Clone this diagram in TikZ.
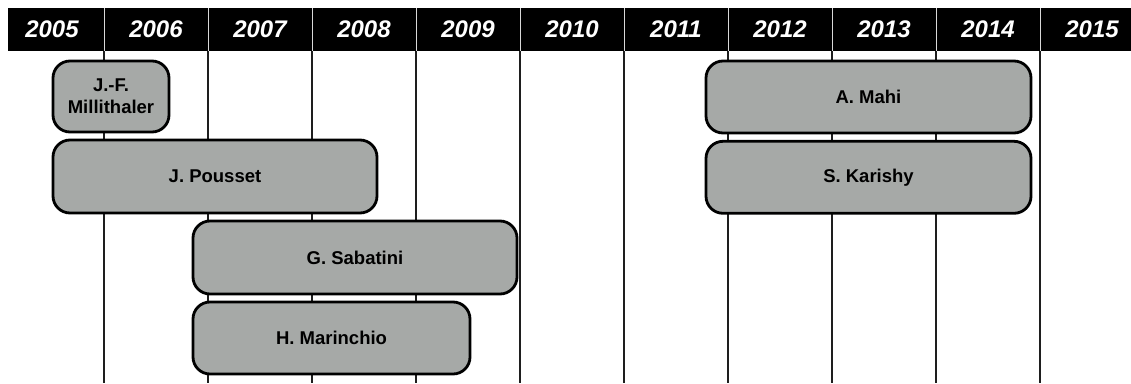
\documentclass[tikz,border=0pt]{standalone}
\usepackage{fontspec}
\setmainfont{Liberation Sans}
\definecolor{boxgray}{RGB}{166,169,167}
\definecolor{gridcol}{RGB}{30,30,30}
\begin{document}
\begin{tikzpicture}[x=1pt,y=-1pt,
  yearlbl/.style={text=white,font=\fontsize{24}{26}\selectfont\bfseries\itshape,inner sep=0pt},
  person/.style={draw=black,fill=boxgray,line width=2.8pt,rounded corners=17pt,
    font=\fontsize{18.5}{22}\selectfont\bfseries,align=center,inner sep=0pt},
  gridline/.style={draw=gridcol,line width=1.4pt},
  headsep/.style={draw=white!85!black,line width=1pt}]
\useasboundingbox (0,0) rectangle (1131,383);
% header bar
\fill[black] (8,8) rectangle (1131,51);
\foreach \i in {1,...,10} {
  \coordinate (ht\i) at (104*\i,8);
  \coordinate (hb\i) at (104*\i,51);
  \coordinate (bb\i) at (104*\i,383);
  \draw[headsep] (ht\i) -- (hb\i);
  \draw[gridline] (hb\i) -- (bb\i);
}
\foreach \yr [count=\i from 0] in {2005,...,2015}
  \node[yearlbl] (y\yr) at (52+104*\i,29.5) {\yr};
% person boxes
\node[person,minimum width=116pt,minimum height=71pt] (millithaler) at (111,96.5) {J.-F.\\Millithaler};
\node[person,minimum width=324pt,minimum height=73pt] (pousset) at (215,176.5) {J. Pousset};
\node[person,minimum width=324pt,minimum height=73pt] (sabatini) at (355,257.5) {G. Sabatini};
\node[person,minimum width=277pt,minimum height=72pt] (marinchio) at (331.5,338) {H. Marinchio};
\node[person,minimum width=325pt,minimum height=72pt] (mahi) at (868.5,97) {A. Mahi};
\node[person,minimum width=325pt,minimum height=72pt] (karishy) at (868.5,177.3) {S. Karishy};
\end{tikzpicture}
\end{document}
